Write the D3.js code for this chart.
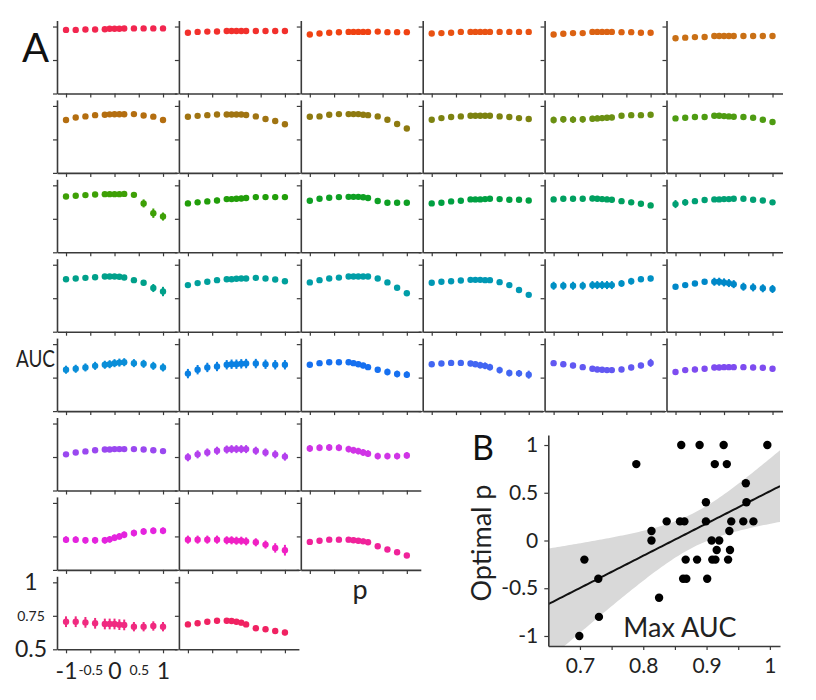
<!DOCTYPE html>
<html><head><meta charset="utf-8">
<script src="https://cdn.jsdelivr.net/npm/d3@7"></script>
<style>body{margin:0;background:#fff} svg{display:block;font-family:Lato,"Open Sans",sans-serif}</style>
</head><body><svg id="c" width="816" height="700"></svg>
<script>
// ---------- DATA ----------
const pValues = [-1,-0.8,-0.6,-0.4,-0.2,-0.1,0,0.1,0.2,0.4,0.6,0.8,1];
const panelsPerRow = [6,6,6,6,6,3,3,2];
const aucYTicks = [0.5,0.75,1];
const pTicks = [-1,-0.5,0,0.5,1];
const aucMeans = [
 [0.975,0.975,0.978,0.978,0.98,0.983,0.983,0.983,0.985,0.986,0.986,0.986,0.986],
 [0.953,0.96,0.962,0.963,0.967,0.967,0.967,0.967,0.967,0.967,0.967,0.967,0.967],
 [0.941,0.948,0.953,0.957,0.96,0.96,0.96,0.96,0.96,0.962,0.958,0.958,0.958],
 [0.948,0.951,0.953,0.96,0.96,0.96,0.96,0.96,0.96,0.96,0.96,0.96,0.96],
 [0.941,0.946,0.951,0.951,0.96,0.96,0.96,0.96,0.96,0.958,0.958,0.953,0.953],
 [0.912,0.917,0.921,0.922,0.929,0.929,0.929,0.929,0.929,0.929,0.929,0.929,0.929],
 [0.895,0.914,0.922,0.931,0.934,0.937,0.938,0.938,0.938,0.939,0.929,0.92,0.895],
 [0.919,0.926,0.931,0.936,0.936,0.936,0.936,0.936,0.932,0.922,0.902,0.887,0.863],
 [0.919,0.922,0.934,0.939,0.939,0.939,0.939,0.934,0.931,0.922,0.897,0.865,0.831],
 [0.897,0.909,0.917,0.922,0.927,0.927,0.927,0.927,0.927,0.922,0.917,0.909,0.902],
 [0.895,0.9,0.898,0.9,0.904,0.907,0.909,0.912,0.914,0.927,0.931,0.931,0.934],
 [0.907,0.912,0.917,0.917,0.927,0.927,0.924,0.922,0.919,0.917,0.912,0.897,0.88],
 [0.917,0.922,0.927,0.931,0.934,0.934,0.934,0.934,0.936,0.929,0.865,0.792,0.767],
 [0.865,0.873,0.88,0.887,0.897,0.897,0.9,0.902,0.905,0.912,0.912,0.912,0.912],
 [0.885,0.9,0.907,0.912,0.914,0.914,0.914,0.911,0.905,0.883,0.87,0.87,0.87],
 [0.865,0.87,0.88,0.885,0.895,0.895,0.895,0.897,0.9,0.897,0.892,0.892,0.887],
 [0.895,0.9,0.9,0.9,0.902,0.9,0.897,0.895,0.892,0.882,0.873,0.863,0.85],
 [0.86,0.873,0.882,0.89,0.895,0.895,0.897,0.897,0.9,0.9,0.892,0.887,0.873],
 [0.892,0.897,0.902,0.907,0.912,0.912,0.912,0.91,0.905,0.885,0.865,0.826,0.8],
 [0.848,0.863,0.873,0.885,0.892,0.892,0.895,0.897,0.897,0.902,0.897,0.89,0.877],
 [0.868,0.885,0.897,0.904,0.912,0.912,0.912,0.912,0.912,0.897,0.868,0.828,0.787],
 [0.865,0.873,0.877,0.882,0.887,0.887,0.887,0.885,0.885,0.87,0.848,0.811,0.775],
 [0.843,0.843,0.843,0.843,0.848,0.848,0.848,0.848,0.848,0.86,0.877,0.892,0.897],
 [0.836,0.848,0.86,0.873,0.873,0.873,0.868,0.863,0.855,0.836,0.831,0.824,0.819],
 [0.809,0.816,0.826,0.838,0.846,0.85,0.858,0.862,0.865,0.858,0.853,0.838,0.826],
 [0.78,0.809,0.826,0.833,0.846,0.85,0.85,0.853,0.855,0.855,0.85,0.846,0.846],
 [0.846,0.858,0.865,0.865,0.865,0.858,0.85,0.84,0.828,0.809,0.792,0.777,0.772],
 [0.85,0.855,0.86,0.86,0.855,0.85,0.843,0.838,0.828,0.806,0.784,0.782,0.772],
 [0.858,0.85,0.84,0.828,0.816,0.811,0.809,0.806,0.806,0.811,0.826,0.84,0.86],
 [0.792,0.806,0.811,0.816,0.826,0.826,0.828,0.828,0.828,0.828,0.826,0.824,0.816],
 [0.77,0.784,0.792,0.8,0.806,0.806,0.809,0.809,0.809,0.809,0.806,0.801,0.794],
 [0.748,0.77,0.784,0.797,0.806,0.809,0.809,0.809,0.809,0.797,0.784,0.77,0.753],
 [0.814,0.819,0.821,0.819,0.809,0.801,0.794,0.784,0.775,0.757,0.757,0.757,0.762],
 [0.726,0.726,0.721,0.721,0.721,0.728,0.74,0.75,0.762,0.775,0.787,0.792,0.792],
 [0.726,0.726,0.726,0.726,0.721,0.721,0.718,0.718,0.713,0.706,0.689,0.664,0.647],
 [0.709,0.718,0.726,0.726,0.726,0.721,0.718,0.713,0.706,0.677,0.652,0.632,0.608],
 [0.706,0.706,0.701,0.694,0.689,0.689,0.689,0.684,0.682,0.669,0.669,0.674,0.669],
 [0.686,0.694,0.706,0.713,0.713,0.711,0.706,0.699,0.686,0.657,0.65,0.637,0.625]
];
const aucErrs = [
 [.004,.004,.004,.004,.004,.004,.004,.004,.004,.004,.004,.004,.004],
 [.004,.004,.004,.004,.004,.004,.004,.004,.004,.004,.004,.004,.004],
 [.004,.004,.004,.004,.004,.004,.004,.004,.004,.004,.004,.004,.004],
 [.004,.004,.004,.004,.004,.004,.004,.004,.004,.004,.004,.004,.004],
 [.004,.004,.004,.004,.004,.004,.004,.004,.004,.004,.004,.004,.004],
 [.005,.005,.005,.005,.005,.005,.005,.005,.005,.005,.005,.005,.005],
 [.008,.008,.008,.008,.008,.008,.008,.008,.008,.008,.008,.01,.012],
 [.008,.008,.008,.008,.008,.008,.008,.008,.008,.008,.01,.012,.016],
 [.008,.008,.008,.008,.008,.008,.008,.008,.008,.008,.01,.015,.018],
 [.008,.008,.008,.008,.008,.008,.008,.008,.008,.008,.008,.008,.008],
 [.025,.025,.025,.025,.022,.022,.022,.02,.02,.018,.018,.016,.016],
 [.01,.01,.01,.01,.01,.01,.01,.01,.01,.01,.01,.01,.01],
 [.01,.01,.01,.01,.01,.01,.01,.01,.01,.018,.03,.035,.03],
 [.02,.02,.02,.02,.02,.02,.02,.02,.02,.02,.02,.02,.02],
 [.01,.01,.01,.01,.01,.01,.01,.01,.01,.01,.01,.01,.01],
 [.015,.015,.015,.015,.015,.015,.015,.015,.015,.015,.015,.015,.015],
 [.02,.02,.02,.02,.02,.02,.02,.02,.02,.02,.02,.02,.02],
 [.03,.025,.02,.015,.015,.015,.015,.015,.015,.015,.015,.015,.015],
 [.01,.01,.01,.01,.01,.01,.01,.01,.01,.015,.02,.03,.035],
 [.015,.015,.015,.015,.015,.015,.015,.015,.015,.015,.015,.015,.015],
 [.01,.01,.01,.01,.01,.01,.01,.01,.01,.01,.01,.01,.012],
 [.01,.01,.01,.01,.01,.01,.01,.01,.01,.01,.01,.012,.012],
 [.03,.03,.03,.03,.03,.03,.03,.03,.03,.025,.025,.02,.02],
 [.015,.015,.015,.02,.03,.03,.03,.03,.03,.03,.03,.03,.03],
 [.03,.03,.03,.03,.03,.03,.03,.03,.03,.03,.03,.03,.03],
 [.035,.035,.035,.035,.035,.035,.035,.035,.035,.035,.035,.035,.035],
 [.015,.015,.015,.015,.02,.02,.02,.02,.02,.02,.025,.025,.025],
 [.012,.012,.012,.012,.02,.02,.025,.025,.025,.025,.025,.025,.03],
 [.02,.02,.02,.02,.02,.02,.02,.02,.02,.02,.02,.02,.03],
 [.02,.02,.02,.02,.02,.02,.02,.02,.02,.02,.02,.02,.02],
 [.012,.012,.012,.012,.012,.012,.012,.012,.012,.012,.012,.012,.015],
 [.03,.03,.03,.03,.03,.03,.03,.03,.03,.03,.03,.03,.03],
 [.025,.025,.025,.025,.025,.025,.025,.025,.025,.025,.025,.025,.025],
 [.025,.025,.025,.025,.025,.025,.025,.025,.025,.025,.025,.025,.025],
 [.03,.03,.03,.03,.03,.03,.03,.03,.03,.03,.03,.035,.04],
 [.02,.02,.02,.02,.02,.02,.02,.02,.02,.012,.01,.008,.008],
 [.04,.04,.04,.04,.04,.04,.04,.04,.04,.035,.035,.035,.035],
 [.02,.02,.02,.02,.02,.02,.02,.02,.02,.02,.02,.02,.02]
];
const panelColors = [
 '#f2264f','#f2302c','#f04212','#e95213','#db6212','#c97016',
 '#b46e10','#a07412','#8e7a10','#7c8210','#6a9012','#4e9c12',
 '#3ea006','#229e0a','#0ea024','#00a042','#00a060','#00a074',
 '#00a08a','#00a09c','#009ea8','#0098b4','#0090c4','#0088c8',
 '#0a8ed8','#0a80e2','#1670f0','#4266f2','#6258f2','#7e4cf0',
 '#9a48f0','#b440ee','#d034e6',
 '#e424de','#f020c4','#f0229a',
 '#f02a80','#f02262'
];
const maxAUC = [0.86,0.889,0.927,0.996,0.789,0.913,0.932,0.962,0.899,0.963,0.837,0.858,0.865,0.899,0.939,0.958,0.974,0.813,0.936,0.813,0.908,0.92,0.916,0.937,0.707,0.867,0.885,0.909,0.914,0.934,0.729,0.863,0.868,0.901,0.825,0.73,0.699];
const optimalP = [1,1,1,1,0.8,0.8,0.8,0.6,0.4,0.4,0.2,0.2,0.2,0.2,0.2,0.2,0.2,0.1,0.1,0,0,0,-0.1,-0.1,-0.2,-0.2,-0.2,-0.2,-0.2,-0.2,-0.4,-0.4,-0.4,-0.4,-0.6,-0.8,-1];
const bXTicks = [0.7,0.75,0.8,0.85,0.9,0.95,1];
const bXLabels = [0.7,0.8,0.9,1];
const bYTicks = [-1,-0.5,0,0.5,1];

// ---------- DRAW ----------
const svg = d3.select('#c');
const axisColor = '#3a3a3a';
const colX0 = 57, colStep = 121.9, rowY0 = 93.5, rowStep = 79.4;

function styleAxis(g){
  g.selectAll('path.domain').attr('stroke',axisColor).attr('stroke-width',1.6);
  g.selectAll('.tick line').attr('stroke',axisColor).attr('stroke-width',1.2);
  g.selectAll('text').attr('fill','#222').attr('font-family','Lato, "Open Sans", sans-serif');
}

let idx = 0;
panelsPerRow.forEach((n, r) => {
  for (let c = 0; c < n; c++) drawPanel(idx++, r, c);
});

function drawPanel(i, r, c){
  const x0 = colX0 + c*colStep, yb = rowY0 + r*rowStep;
  const wide = (c === 5) ? 116 : 120;
  const x = d3.scaleLinear().domain([-1.186, -1.186 + wide/48.5]).range([x0, x0 + wide]);
  const y = d3.scaleLinear().domain([0.5, 1.045]).range([yb, yb - 73]);
  const color = panelColors[i];
  const g = svg.append('g');
  const isBL = (r === 7 && c === 0);

  const gx = g.append('g').attr('transform', `translate(0,${yb})`)
    .call(d3.axisBottom(x).tickValues(pTicks).tickSizeInner(4).tickSizeOuter(0)
      .tickFormat(isBL ? d3.format('') : () => ''));
  const gy = g.append('g').attr('transform', `translate(${x0},0)`)
    .call(d3.axisLeft(y).tickValues(aucYTicks).tickSizeInner(4).tickSizeOuter(0)
      .tickFormat(isBL ? d3.format('') : () => ''));
  styleAxis(gx); styleAxis(gy);
  if (isBL) {
    gx.selectAll('.tick text')
      .attr('font-size', d => Number.isInteger(d) ? 23 : 14)
      .attr('y', d => Number.isInteger(d) ? 13 : 16)
      .text(d => d === 0 ? '0' : String(d));
    gy.selectAll('.tick text')
      .attr('text-anchor','middle').attr('x', -26)
      .attr('font-size', d => d === 0.75 ? 14 : 23)
      .text(d => String(d));
  }

  const pts = pValues.map((p, k) => ({p, m: aucMeans[i][k], e: aucErrs[i][k]}));
  g.selectAll('line.err').data(pts).enter().append('line')
    .attr('x1', d => x(d.p)).attr('x2', d => x(d.p))
    .attr('y1', d => y(d.m - d.e)).attr('y2', d => y(d.m + d.e))
    .attr('stroke', color).attr('stroke-width', 2);
  g.selectAll('circle').data(pts).enter().append('circle')
    .attr('cx', d => x(d.p)).attr('cy', d => y(d.m)).attr('r', 3.2)
    .attr('fill', color);
}

// Labels for A
svg.append('text').attr('x', 22).attr('y', 62).attr('font-size', 40).attr('fill','#111').text('A');
svg.append('text').attr('x', 16).attr('y', 367).attr('font-size', 24)
  .attr('textLength', 39).attr('lengthAdjust','spacingAndGlyphs').attr('fill','#222').text('AUC');
svg.append('text').attr('x', 360).attr('y', 599).attr('text-anchor','middle').attr('font-size', 27).attr('fill','#222').text('p');

// ---------- Panel B ----------
const bx = d3.scaleLinear().domain([0.65, 1.016]).range([548.3, 780]);
const by = d3.scaleLinear().domain([-1.105, 1.105]).range([646, 435]);
svg.append('defs').append('clipPath').attr('id','clipB')
  .append('rect').attr('x', bx.range()[0]).attr('y', by.range()[1])
  .attr('width', bx.range()[1] - bx.range()[0]).attr('height', by.range()[0] - by.range()[1]);
const gB = svg.append('g');
const gPlot = gB.append('g').attr('clip-path','url(#clipB)');

// regression + confidence band
const n = maxAUC.length;
const mx = d3.mean(maxAUC), my = d3.mean(optimalP);
const sxx = d3.sum(maxAUC, v => (v - mx)*(v - mx));
const sxy = d3.sum(maxAUC.map((v, k) => (v - mx)*(optimalP[k] - my)));
const slope = sxy / sxx, icpt = my - slope*mx;
const sres = Math.sqrt(d3.sum(maxAUC.map((v, k) => Math.pow(optimalP[k] - (icpt + slope*v), 2))) / (n - 2));
const tval = 2.4;
const xs = d3.range(0, 101).map(k => 0.65 + k*(1.016 - 0.65)/100);
const band = xs.map(v => {
  const fit = icpt + slope*v;
  const se = sres*Math.sqrt(1/n + (v - mx)*(v - mx)/sxx);
  return {v, lo: fit - tval*se, hi: fit + tval*se, fit};
});
gPlot.append('path').datum(band)
  .attr('d', d3.area().x(d => bx(d.v)).y0(d => by(d.lo)).y1(d => by(d.hi)))
  .attr('fill', '#d9d9d9');
gPlot.append('path').datum(band)
  .attr('d', d3.line().x(d => bx(d.v)).y(d => by(d.fit)))
  .attr('fill','none').attr('stroke','#111').attr('stroke-width', 2);

const gbx = gB.append('g').attr('transform','translate(0,646)')
  .call(d3.axisBottom(bx).tickValues(bXTicks).tickSizeInner(4).tickSizeOuter(0)
    .tickPadding(8).tickFormat(d => bXLabels.some(v => Math.abs(v - d) < 1e-9) ? String(d) : ''));
const gby = gB.append('g').attr('transform','translate(548.3,0)')
  .call(d3.axisLeft(by).tickValues(bYTicks).tickSizeInner(4).tickSizeOuter(0).tickPadding(6)
    .tickFormat(d => String(d)));
styleAxis(gbx); styleAxis(gby);
gbx.selectAll('text').attr('font-size', 21);
gby.selectAll('text').attr('font-size', 21);

gB.selectAll('circle.pt').data(maxAUC.map((v, k) => ({v, p: optimalP[k]}))).enter().append('circle')
  .attr('class','pt')
  .attr('cx', d => bx(d.v)).attr('cy', d => by(d.p)).attr('r', 4.2).attr('fill','#000');

svg.append('text').attr('x', 472).attr('y', 460).attr('font-size', 34).attr('fill','#111').text('B');
svg.append('text').attr('transform','translate(491,543) rotate(-90)').attr('text-anchor','middle')
  .attr('font-size', 27).attr('fill','#222').text('Optimal p');
svg.append('text').attr('x', 680).attr('y', 637).attr('text-anchor','middle')
  .attr('font-size', 27).attr('fill','#222').text('Max AUC');
</script>
</body></html>
